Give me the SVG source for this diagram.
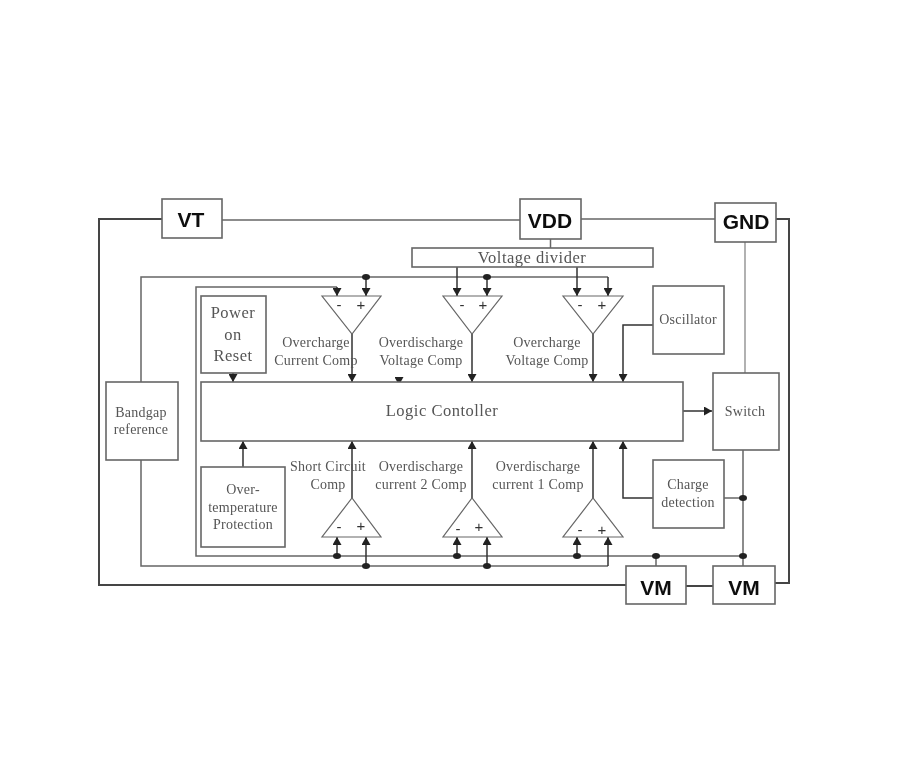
<svg xmlns="http://www.w3.org/2000/svg" width="900" height="777" viewBox="0 0 900 777">
<defs>
<filter id="soft" x="-5%" y="-5%" width="110%" height="110%"><feGaussianBlur stdDeviation="0.6"/></filter>
<marker id="a" markerUnits="userSpaceOnUse" markerWidth="10" markerHeight="9" refX="8" refY="4.500" orient="auto"><path d="M0 0L8 4.500L0 9z" fill="#222"/></marker>
</defs>
<style>
.b{fill:#fff;stroke:#666;stroke-width:1.6}
.c{fill:#fff;stroke:#666;stroke-width:1.2}
.w{fill:none;stroke:#666;stroke-width:1.5}
.n{fill:none;stroke:#888;stroke-width:1.3}
.k{fill:none;stroke:#444;stroke-width:2}
.g{fill:none;stroke:#333;stroke-width:1.5;marker-end:url(#a)}
.d{fill:#222;stroke:none}
.t{fill:#555;font-family:"Liberation Serif",serif;font-size:14px;text-anchor:middle;letter-spacing:.25px}
.m{fill:#555;font-family:"Liberation Serif",serif;font-size:16.5px;text-anchor:middle;letter-spacing:.5px}
.p{fill:#111;font-family:"Liberation Sans",Arial,sans-serif;font-size:21px;font-weight:bold;text-anchor:middle}
.s{fill:#333;font-family:"Liberation Sans",Arial,sans-serif;font-size:15px;text-anchor:middle}
</style>
<rect width="900" height="777" fill="#fff"/>
<g filter="url(#soft)">
<g id="connectors">
<path class="k" d="M162 219H99V585H626"/>
<path class="w" d="M222 220H520"/>
<path class="w" d="M581 219H715"/>
<path class="k" d="M776 219H789V583H775"/>
<path class="k" d="M686 586H713"/>
<path class="w" d="M550.500 239V248"/>
<path class="n" d="M745 242V373"/>
<path class="w" d="M743 450V566"/>
<path class="w" d="M724 498H743"/>
<path class="w" d="M656 556V566"/>
<path class="w" d="M141 382V277H608"/>
<path class="w" d="M141 460V566H608"/>
<path class="w" d="M337 287H196V556H743"/>
<path class="g" d="M337 287V296"/><path class="g" d="M366 277V296"/>
<path class="g" d="M457 267V296"/><path class="g" d="M487 277V296"/>
<path class="g" d="M577 267V296"/><path class="g" d="M608 277V296"/>
<path class="g" d="M352 334V382"/><path class="g" d="M472 334V382"/><path class="g" d="M593 334V382"/>
<path class="g" d="M352 498V441"/><path class="g" d="M472 498V441"/><path class="g" d="M593 498V441"/>
<path class="g" d="M337 556V537"/><path class="g" d="M366 566V537"/>
<path class="g" d="M457 556V537"/><path class="g" d="M487 566V537"/>
<path class="g" d="M577 556V537"/><path class="g" d="M608 566V537"/>
<path class="g" d="M653 325H623V382"/>
<path class="g" d="M653 498H623V441"/>
<path class="g" d="M233 373V382"/>
<path class="g" d="M243 467V441"/>
<path class="g" d="M399 378V385"/>
<path class="g" d="M683 411H712"/>
<ellipse class="d" cx="366" cy="277" rx="4" ry="3"/><ellipse class="d" cx="487" cy="277" rx="4" ry="3"/>
<ellipse class="d" cx="337" cy="556" rx="4" ry="3"/><ellipse class="d" cx="457" cy="556" rx="4" ry="3"/><ellipse class="d" cx="577" cy="556" rx="4" ry="3"/>
<ellipse class="d" cx="366" cy="566" rx="4" ry="3"/><ellipse class="d" cx="487" cy="566" rx="4" ry="3"/>
<ellipse class="d" cx="656" cy="556" rx="4" ry="3"/><ellipse class="d" cx="743" cy="556" rx="4" ry="3"/><ellipse class="d" cx="743" cy="498" rx="4" ry="3"/>
</g>
<g id="vt"><rect class="b" x="162" y="199" width="60" height="39"/><text class="p" x="191" y="227">VT</text></g>
<g id="vdd"><rect class="b" x="520" y="199" width="61" height="40"/><text class="p" x="550" y="228">VDD</text></g>
<g id="gnd"><rect class="b" x="715" y="203" width="61" height="39"/><text class="p" x="746" y="229">GND</text></g>
<g id="vm1"><rect class="b" x="626" y="566" width="60" height="38"/><text class="p" x="656" y="595">VM</text></g>
<g id="vm2"><rect class="b" x="713" y="566" width="62" height="38"/><text class="p" x="744" y="595">VM</text></g>
<g id="divider"><rect class="b" x="412" y="248" width="241" height="19"/><text class="m" x="532" y="263">Voltage divider</text></g>
<g id="por"><rect class="b" x="201" y="296" width="65" height="77"/><text class="m" x="233" y="318">Power</text><text class="m" x="233" y="340">on</text><text class="m" x="233" y="361">Reset</text></g>
<g id="oscillator"><rect class="b" x="653" y="286" width="71" height="68"/><text class="t" x="688" y="324">Oscillator</text></g>
<g id="logic"><rect class="b" x="201" y="382" width="482" height="59"/><text class="m" x="442" y="416">Logic Contoller</text></g>
<g id="switch"><rect class="b" x="713" y="373" width="66" height="77"/><text class="t" x="745" y="416">Switch</text></g>
<g id="bandgap"><rect class="b" x="106" y="382" width="72" height="78"/><text class="t" x="141" y="417">Bandgap</text><text class="t" x="141" y="434">reference</text></g>
<g id="overtemp"><rect class="b" x="201" y="467" width="84" height="80"/><text class="t" x="243" y="494">Over-</text><text class="t" x="243" y="512">temperature</text><text class="t" x="243" y="529">Protection</text></g>
<g id="charge"><rect class="b" x="653" y="460" width="71" height="68"/><text class="t" x="688" y="489">Charge</text><text class="t" x="688" y="507">detection</text></g>
<g id="comp1"><path class="c" d="M322 296H381L352 334Z"/><text class="s" x="339" y="310">-</text><text class="s" x="361" y="310">+</text><text class="t" x="316" y="347">Overcharge</text><text class="t" x="316" y="365">Current Comp</text></g>
<g id="comp2"><path class="c" d="M443 296H502L472 334Z"/><text class="s" x="462" y="310">-</text><text class="s" x="483" y="310">+</text><text class="t" x="421" y="347">Overdischarge</text><text class="t" x="421" y="365">Voltage Comp</text></g>
<g id="comp3"><path class="c" d="M563 296H623L593 334Z"/><text class="s" x="580" y="310">-</text><text class="s" x="602" y="310">+</text><text class="t" x="547" y="347">Overcharge</text><text class="t" x="547" y="365">Voltage Comp</text></g>
<g id="comp4"><path class="c" d="M322 537H381L352 498Z"/><text class="s" x="339" y="532">-</text><text class="s" x="361" y="531">+</text><text class="t" x="328" y="471">Short Circuit</text><text class="t" x="328" y="489">Comp</text></g>
<g id="comp5"><path class="c" d="M443 537H502L472 498Z"/><text class="s" x="458" y="534">-</text><text class="s" x="479" y="532">+</text><text class="t" x="421" y="471">Overdischarge</text><text class="t" x="421" y="489">current 2 Comp</text></g>
<g id="comp6"><path class="c" d="M563 537H623L593 498Z"/><text class="s" x="580" y="535">-</text><text class="s" x="602" y="535">+</text><text class="t" x="538" y="471">Overdischarge</text><text class="t" x="538" y="489">current 1 Comp</text></g>
</g>
</svg>
